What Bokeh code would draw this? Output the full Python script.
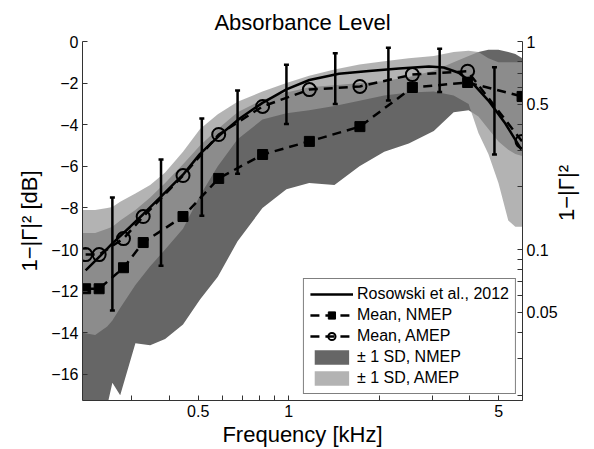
import math
from bokeh.plotting import figure
from bokeh.models import (ColumnDataSource, FixedTicker, CustomJSTickFormatter, LinearAxis,
                          Legend, LegendItem, Whisker, TeeHead, Range1d)
from bokeh.embed import file_html
from bokeh.resources import INLINE

# ---------------- data ----------------
# frequencies (kHz) of the mean markers
f_mean = [0.211, 0.234, 0.282, 0.328, 0.445, 0.585, 0.819, 1.172, 1.726, 2.58, 3.94, 5.98]
nmep_mean = [-11.88, -11.88, -10.87, -9.66, -8.41, -6.58, -5.43, -4.80, -4.09, -2.21, -1.97, -2.64]
amep_mean = [-10.24, -10.24, -9.47, -8.41, -6.44, -4.47, -3.12, -2.31, -2.16, -1.59, -1.43, -4.80]

# Rosowski et al., 2012 normative curve
f_ros = [0.211, 0.236, 0.259, 0.297, 0.328, 0.373, 0.445, 0.507, 0.590, 0.687, 0.818, 0.983,
         1.172, 1.47, 1.85, 2.33, 2.93, 3.28, 3.68, 4.12, 4.62, 5.26, 5.95]
ros = [-11.0, -10.3, -9.7, -8.9, -8.3, -7.5, -6.4, -5.4, -4.5, -3.7, -2.95, -2.3,
       -1.85, -1.55, -1.42, -1.3, -1.2, -1.25, -1.5, -2.05, -2.84, -3.94, -5.2]

# error bars of the normative data
f_err = [0.259, 0.376, 0.514, 0.676, 0.983, 1.429, 2.147, 3.18, 4.84]
err_top = [-7.5, -5.67, -3.7, -2.36, -1.12, -0.57, -0.3, -0.35, -1.24]
err_bot = [-12.93, -10.77, -8.37, -6.35, -3.96, -3.0, -2.84, -2.43, -5.43]

# +/- 1 SD bands
f_band = [0.206, 0.227, 0.249, 0.259, 0.275, 0.309, 0.346, 0.388, 0.445, 0.507, 0.581, 0.676,
          0.818, 0.983, 1.17, 1.42, 1.72, 2.08, 2.51, 3.04, 3.54, 3.97, 4.28, 4.62, 4.99, 5.38,
          5.68, 5.99]
amep_upper = [-8.1, -8.1, -8.0, -7.95, -7.7, -7.3, -6.9, -6.3, -5.3, -4.2, -3.5, -2.9,
              -2.4, -2.0, -1.65, -1.35, -1.1, -0.95, -0.8, -0.7, -0.5, -0.45, -0.5, -0.8,
              -1.0, -1.0, -1.0, -1.0]
amep_lower = [-14.0, -14.1, -13.7, -13.4, -12.8, -11.7, -10.8, -10.0, -9.0, -7.4, -6.0, -4.7,
              -3.75, -3.45, -3.3, -3.1, -2.85, -2.6, -2.45, -2.4, -2.6, -3.0, -4.4, -5.4,
              -6.8, -8.6, -8.9, -8.9]
nmep_upper = [-9.2, -9.2, -9.0, -8.9, -8.6, -8.1, -7.5, -6.8, -5.9, -5.0, -4.2, -3.4,
              -2.8, -2.45, -2.2, -2.1, -2.0, -1.9, -1.7, -1.4, -1.0, -0.7, -0.5, -0.4,
              -0.4, -0.5, -0.6, -0.8]
nmep_lower = [-19.0, -19.0, -17.5, -16.4, -17.0, -14.5, -14.6, -14.3, -13.6, -12.4, -11.3, -9.6,
              -8.0, -7.1, -6.8, -6.9, -6.0, -5.3, -4.9, -4.3, -3.4, -3.3, -3.6, -4.2,
              -4.8, -5.2, -5.4, -5.5]

# axes
x_major = [0.5, 1, 5]
x_minor = [0.3, 0.4, 0.6, 0.7, 0.8, 0.9, 2, 3, 4, 6]
y_major = [0, -2, -4, -6, -8, -10, -12, -14, -16]
right_major = [1, 0.5, 0.1, 0.05]
right_minor = [0.9, 0.8, 0.7, 0.6, 0.4, 0.3, 0.2, 0.09, 0.08, 0.07, 0.06, 0.04, 0.03, 0.02]

FONT = "Liberation Sans"

p = figure(width=594, height=449, x_axis_type="log",
           x_range=Range1d(0.206, 6.0), y_range=Range1d(-17.25, 0),
           output_backend="svg", toolbar_location=None,
           min_border_left=82, min_border_right=70, min_border_top=41, min_border_bottom=49)
p.outline_line_color = None
p.xgrid.visible = False
p.ygrid.visible = False

p.title.text = "Absorbance Level"
p.title.align = "center"
p.title.text_font = FONT
p.title.text_font_size = "22px"
p.title.text_font_style = "normal"
p.title.text_color = "black"
p.title.standoff = 14

band = ColumnDataSource(dict(f=f_band, au=amep_upper, al=amep_lower, nu=nmep_upper, nl=nmep_lower))
r_n = p.varea(x="f", y1="nl", y2="nu", source=band, fill_color="#666666")
r_a = p.varea(x="f", y1="al", y2="au", source=band, fill_color="#999999", fill_alpha=0.745)

err = ColumnDataSource(dict(f=f_err, top=err_top, bot=err_bot))
wh = Whisker(base="f", upper="top", lower="bot", source=err, dimension="height",
             line_width=2.5, line_color="black", level="annotation",
             upper_head=TeeHead(size=5, line_width=2.5, line_color="black"),
             lower_head=TeeHead(size=5, line_width=2.5, line_color="black"))
p.add_layout(wh)

r_ros = p.line(f_ros, ros, line_color="black", line_width=2.5)
mean = ColumnDataSource(dict(f=f_mean, n=nmep_mean, a=amep_mean))
r_nl = p.line("f", "n", source=mean, line_color="black", line_width=2.5, line_dash="9 6")
r_ns = p.scatter("f", "n", source=mean, marker="square", size=10, fill_color="black",
                 line_color="black")
r_al = p.line("f", "a", source=mean, line_color="black", line_width=2.5, line_dash="9 6")
r_as = p.scatter("f", "a", source=mean, marker="circle", size=13, fill_color=None,
                 line_color="black", line_width=2)

# axes
xa = p.xaxis[0]
xa.ticker = FixedTicker(ticks=x_major, minor_ticks=x_minor)
xa.formatter = CustomJSTickFormatter(code="return tick.toString();")
xa.axis_label = "Frequency [kHz]"

ya = p.yaxis[0]
ya.ticker = FixedTicker(ticks=y_major)
ya.formatter = CustomJSTickFormatter(code="return tick < 0 ? '\u2212' + Math.abs(tick) : tick.toString();")
ya.axis_label = "1\u2212|\u0393|\u00b2 [dB]"

ra = LinearAxis(ticker=FixedTicker(ticks=[10 * math.log10(v) for v in right_major],
                                   minor_ticks=[10 * math.log10(v) for v in right_minor]),
                formatter=CustomJSTickFormatter(
                    code="var v = Math.pow(10, tick/10); return String(parseFloat(v.toPrecision(2)));"),
                axis_label="1\u2212|\u0393|\u00b2")
p.add_layout(ra, "right")
try:
    ra.axis_label_orientation = math.pi / 2
except Exception:
    pass

for ax in (xa, ya, ra):
    ax.major_tick_in = 5
    ax.major_tick_out = 0
    ax.minor_tick_in = 5
    ax.minor_tick_out = 0
    ax.axis_line_color = "#333333"
    ax.major_tick_line_color = "#333333"
    ax.minor_tick_line_color = "#333333"
    ax.major_label_text_font = FONT
    ax.major_label_text_font_size = "16px"
    ax.major_label_text_color = "black"
    ax.axis_label_text_font = FONT
    ax.axis_label_text_font_size = "22px"
    ax.axis_label_text_font_style = "normal"
    ax.axis_label_text_color = "black"
    ax.major_label_standoff = 4
    ax.axis_label_standoff = 4
ya.minor_tick_in = 0
ya.axis_label_standoff = 6
ra.axis_label_standoff = 6
xa.axis_label_standoff = 2

legend = Legend(items=[
    LegendItem(label="Rosowski et al., 2012", renderers=[r_ros]),
    LegendItem(label="Mean, NMEP", renderers=[r_nl, r_ns]),
    LegendItem(label="Mean, AMEP", renderers=[r_al, r_as]),
    LegendItem(label="\u00b1 1 SD, NMEP", renderers=[r_n]),
    LegendItem(label="\u00b1 1 SD, AMEP", renderers=[r_a]),
], location="bottom_right")
legend.label_text_font = FONT
legend.label_text_font_size = "16px"
legend.label_text_color = "black"
legend.glyph_width = 43
legend.glyph_height = 18
legend.label_height = 18
legend.spacing = 3
legend.padding = 6
legend.margin = 6
legend.label_standoff = 4
legend.border_line_color = "black"
legend.border_line_width = 1
legend.background_fill_alpha = 1
p.add_layout(legend)

open("out.html", "w").write(file_html(p, INLINE))
